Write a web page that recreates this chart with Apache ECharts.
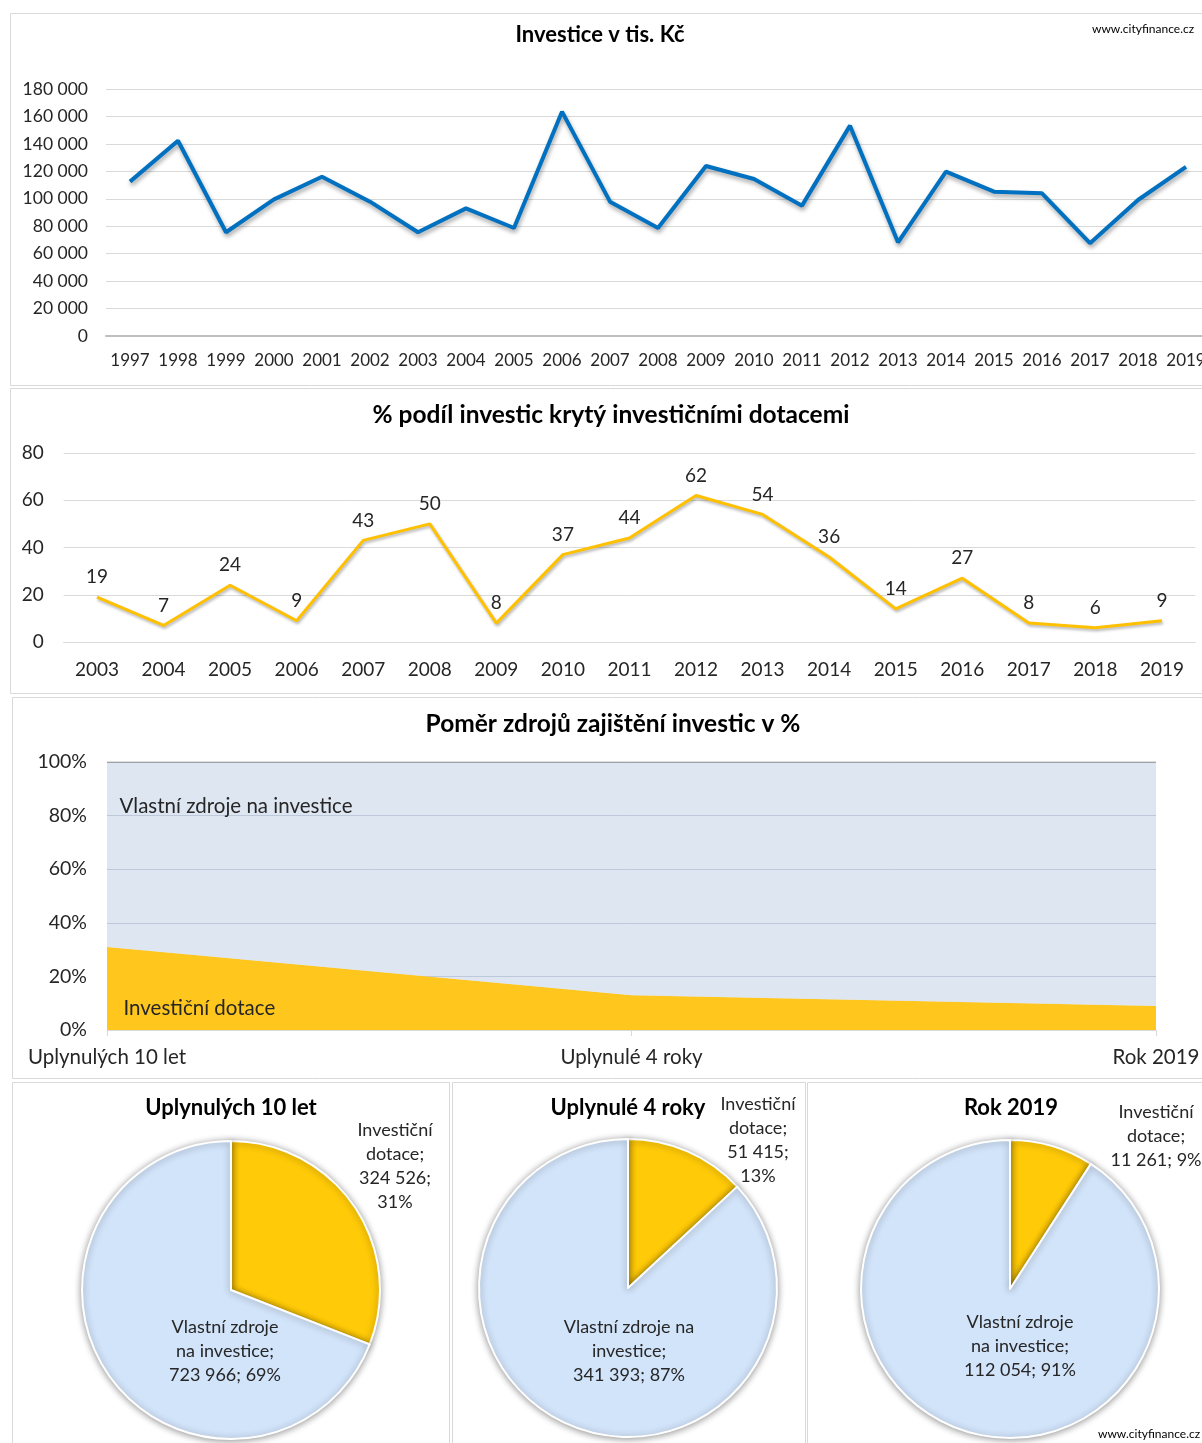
<!DOCTYPE html>
<html><head><meta charset="utf-8">
<script src="https://cdn.jsdelivr.net/npm/echarts@6/dist/echarts.min.js"></script>
<style>html,body{margin:0;padding:0;background:#fff;overflow:hidden;width:1202px;height:1443px}#c{width:1214px;height:1443px}</style>
</head><body><div id="c"></div>
<script>
// ---- data ----
const years1 = ['1997','1998','1999','2000','2001','2002','2003','2004','2005','2006','2007','2008','2009','2010','2011','2012','2013','2014','2015','2016','2017','2018','2019'];
const investice = [112500,142300,75600,99600,116100,97900,75600,93000,78700,163500,97900,78700,123900,114400,95000,153300,68300,119800,105200,104000,67600,99100,123315];
const years2 = ['2003','2004','2005','2006','2007','2008','2009','2010','2011','2012','2013','2014','2015','2016','2017','2018','2019'];
const podil = [19,7,24,9,43,50,8,37,44,62,54,36,14,27,8,6,9];
const periods = ['Uplynulých 10 let','Uplynulé 4 roky','Rok 2019'];
const dotacePct = [31,13,9];
const vlastniPct = [69,87,91];
const seriesNames = ['Investiční dotace','Vlastní zdroje na investice'];
const dotaceAbs = [324526,51415,11261];
const vlastniAbs = [723966,341393,112054];
const yTicks1 = [0,20000,40000,60000,80000,100000,120000,140000,160000,180000];

const FONT = 'Lato, "Open Sans", sans-serif';
const TXT = '#262626';
function sp(v){return String(Math.round(v)).replace(/\B(?=(\d{3})+(?!\d))/g,' ');}

// pie label layout (code-level styling)
const pieCenters = [[231,1290],[628,1288],[1010,1289]];
const pieLabelPos = [[[395,1166],[225,1351]],[[758,1140],[629,1351]],[[1156,1136],[1020,1346]]];
const pieWrap = [{nb:2,vb:true},{nb:3,vb:true},{nb:2,vb:false}];

function pieLabel(pi){
  return function(p){
    const w = p.name.split(' ');
    const v = sp(p.value), pc = Math.round(p.percent) + '%';
    if (p.dataIndex === 0) {
      return w.join('\n') + ';\n' + v + (pieWrap[pi].vb ? ';\n' : '; ') + pc;
    }
    const nb = pieWrap[pi].nb;
    return w.slice(0,nb).join(' ') + '\n' + w.slice(nb).join(' ') + ';\n' + v + '; ' + pc;
  };
}

const pies = [0,1,2].map(function(i){
  return {
    type:'pie', radius:149, center:pieCenters[i], startAngle:90, clockwise:true,
    avoidLabelOverlap:false, animation:false,
    itemStyle:{borderColor:'#fff',borderWidth:2,shadowBlur:7,shadowColor:'rgba(0,0,0,0.4)',shadowOffsetX:0,shadowOffsetY:1},
    label:{show:true,position:'inside',formatter:pieLabel(i),fontFamily:FONT,fontSize:18,lineHeight:24,color:TXT,align:'center'},
    labelLine:{show:false},
    labelLayout:function(params){
      const q = pieLabelPos[i][params.dataIndex];
      return {x:q[0],y:q[1],align:'center',verticalAlign:'middle'};
    },
    emphasis:{disabled:true},
    data:[
      {name:seriesNames[0],value:dotaceAbs[i],itemStyle:{color:'#FFCA08'}},
      {name:seriesNames[1],value:vlastniAbs[i],itemStyle:{color:'#D2E4FA'}}
    ]
  };
});

function txt(text,x,y,font,align){
  return {type:'text',x:x,y:y,z:100,style:{text:text,font:font,fill:'#000',textAlign:align||'center',textVerticalAlign:'middle'}};
}
function box(x,y,w,h){
  return {type:'rect',z:-1,shape:{x:x,y:y,width:w,height:h},style:{fill:'none',stroke:'#D9D9D9',lineWidth:1}};
}

const option = {
  animation:false,
  backgroundColor:'#fff',
  textStyle:{fontFamily:FONT},
  graphic:[
    box(10.5,13.5,1200,372),
    box(10.5,388.5,1200,305),
    box(12.5,697.5,1200,381),
    box(12.5,1082.5,437,370),
    box(452.5,1082.5,353,370),
    box(807.5,1082.5,400,370),
    txt('Investice v tis. Kč',600,35,'bold 22px '+FONT),
    txt('www.cityfinance.cz',1092,29,'12px '+FONT,'left'),
    txt('% podíl investic krytý investičními dotacemi',611,415,'bold 24.5px '+FONT),
    txt('Poměr zdrojů zajištění investic v %',613,724,'bold 24.5px '+FONT),
    txt(periods[0],231,1108,'bold 22px '+FONT),
    txt(periods[1],628,1108,'bold 22px '+FONT),
    txt(periods[2],1011,1108,'bold 22px '+FONT),
    txt('www.cityfinance.cz',1098,1434,'12px '+FONT,'left')
  ],
  grid:[
    {left:106,top:89,width:1104,height:247},
    {left:63.7,top:453,width:1131.5,height:189},
    {left:107,top:762,width:1049,height:268}
  ],
  xAxis:[
    {gridIndex:0,type:'category',data:years1,boundaryGap:true,
     axisLine:{lineStyle:{color:'#BFBFBF',width:2}},axisTick:{show:false},
     axisLabel:{color:TXT,fontSize:17,margin:16,interval:0}},
    {gridIndex:1,type:'category',data:years2,boundaryGap:true,
     axisLine:{lineStyle:{color:'#D9D9D9',width:1}},axisTick:{show:false},
     axisLabel:{color:TXT,fontSize:19,margin:18,interval:0}},
    {gridIndex:2,type:'category',data:periods,boundaryGap:false,
     axisLine:{lineStyle:{color:'#D9D9D9',width:1}},axisTick:{show:true,length:6,lineStyle:{color:'#D9D9D9'}},
     axisLabel:{color:TXT,fontSize:20.5,margin:17,interval:0}}
  ],
  yAxis:[
    {gridIndex:0,type:'value',min:yTicks1[0],max:yTicks1[yTicks1.length-1],interval:yTicks1[1]-yTicks1[0],
     axisLine:{show:false},axisTick:{show:false},splitLine:{lineStyle:{color:'#D9D9D9'}},
     axisLabel:{color:TXT,fontSize:17.5,margin:18,formatter:function(v){return sp(v);}}},
    {gridIndex:1,type:'value',min:0,max:80,interval:20,
     axisLine:{show:false},axisTick:{show:false},splitLine:{lineStyle:{color:'#D9D9D9'}},
     axisLabel:{color:TXT,fontSize:19,margin:20}},
    {gridIndex:2,type:'value',min:0,max:100,interval:20,
     axisLine:{show:false},axisTick:{show:false},splitLine:{lineStyle:{color:'#C8CED8'}},
     axisLabel:{color:TXT,fontSize:19.5,margin:20,formatter:'{value}%'}}
  ],
  series:[
    {type:'line',xAxisIndex:0,yAxisIndex:0,data:investice,showSymbol:false,symbol:'none',
     lineStyle:{color:'#0070C0',width:4,shadowBlur:4,shadowColor:'rgba(0,0,0,0.35)',shadowOffsetX:1,shadowOffsetY:3},
     emphasis:{disabled:true}},
    {type:'line',xAxisIndex:1,yAxisIndex:1,data:podil,showSymbol:true,symbol:'circle',symbolSize:1,
     itemStyle:{color:'rgba(0,0,0,0)'},
     lineStyle:{color:'#FFC000',width:3,shadowBlur:3,shadowColor:'rgba(0,0,0,0.3)',shadowOffsetX:1,shadowOffsetY:2},
     label:{show:true,position:'top',distance:10,color:TXT,fontSize:19},
     emphasis:{disabled:true}},
    {type:'line',name:seriesNames[0],xAxisIndex:2,yAxisIndex:2,stack:'s',
     data:dotacePct.map(function(v,i){return i===0?{value:v,label:{show:true}}:v;}),
     showSymbol:true,symbol:'circle',symbolSize:1,itemStyle:{color:'rgba(0,0,0,0)'},
     lineStyle:{width:0},areaStyle:{color:'#FFC61E',opacity:1},
     label:{show:false,position:'right',offset:[11,61],formatter:'{a}',color:TXT,fontSize:20.5},
     emphasis:{disabled:true}},
    {type:'line',name:seriesNames[1],xAxisIndex:2,yAxisIndex:2,stack:'s',
     data:vlastniPct.map(function(v,i){return i===0?{value:v,label:{show:true}}:v;}),
     showSymbol:true,symbol:'circle',symbolSize:1,itemStyle:{color:'rgba(0,0,0,0)'},
     lineStyle:{width:1.2,color:'#7F7F7F'},areaStyle:{color:'rgb(172,192,222)',opacity:0.4},
     label:{show:false,position:'right',offset:[7,44],formatter:'{a}',color:TXT,fontSize:20.5},
     emphasis:{disabled:true}}
  ].concat(pies)
};
const chart = echarts.init(document.getElementById('c'),null,{renderer:'canvas'});
chart.setOption(option);
</script></body></html>
